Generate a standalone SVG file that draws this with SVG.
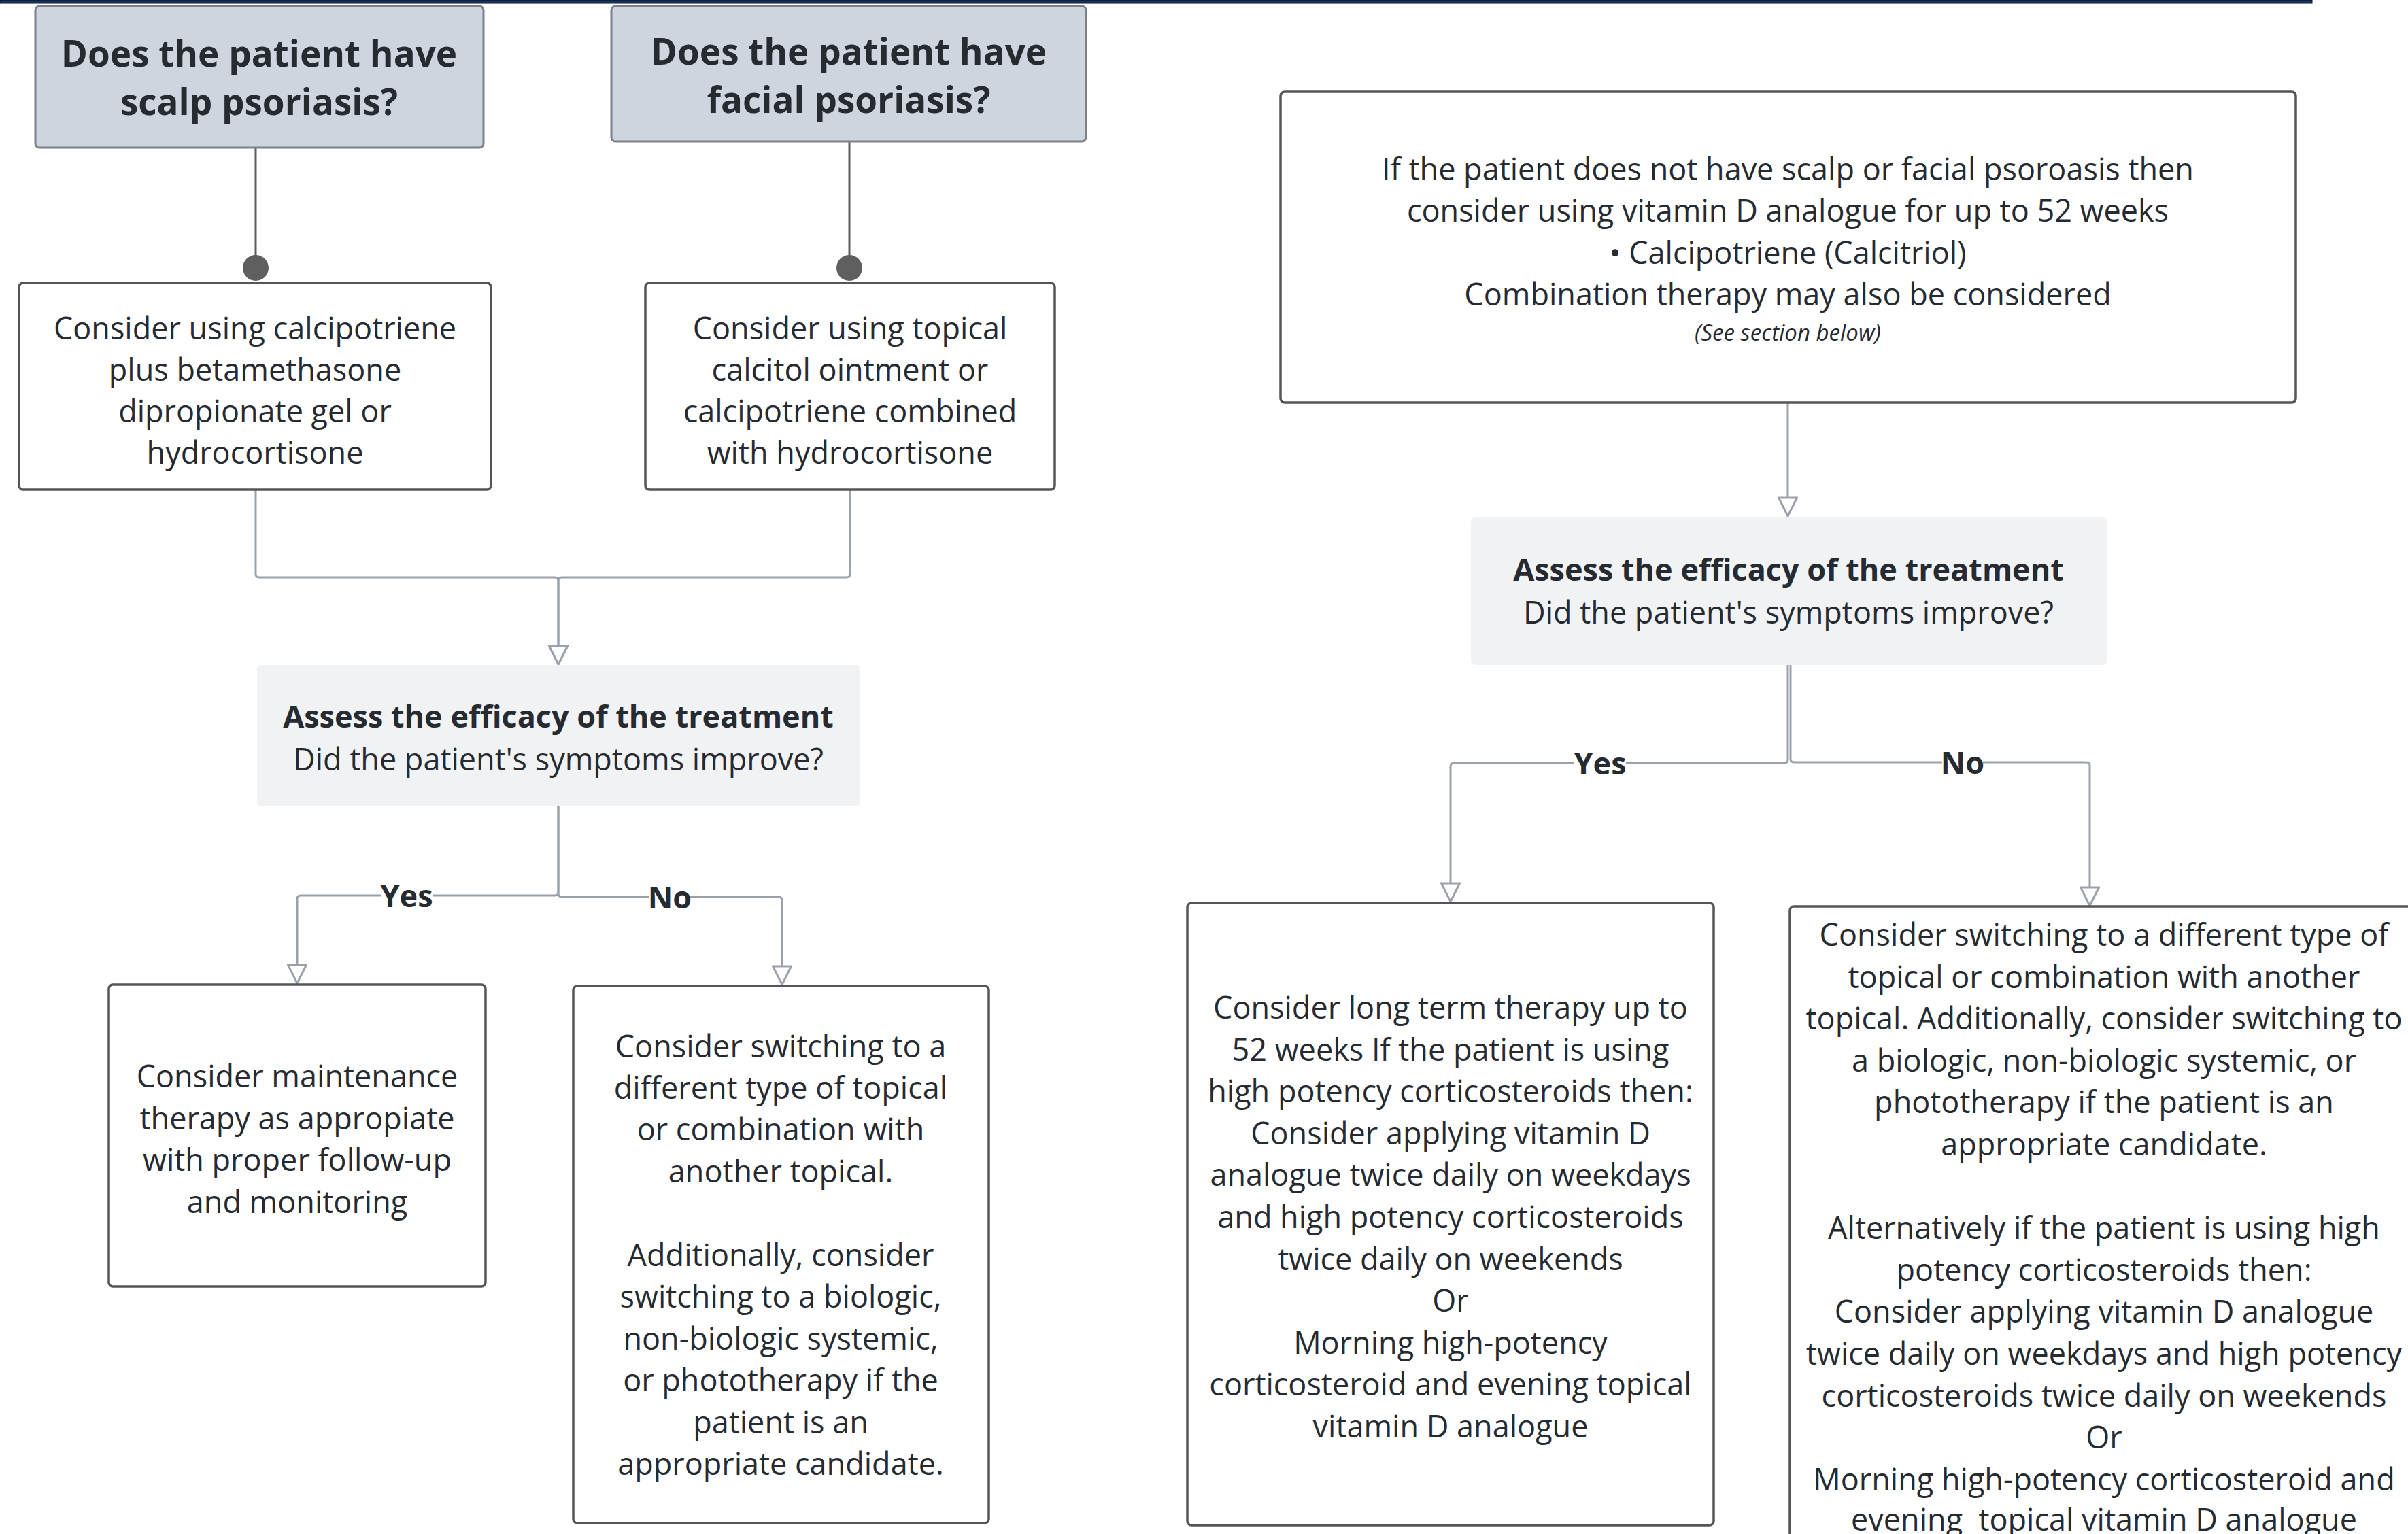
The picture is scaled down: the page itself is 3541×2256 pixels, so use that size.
<svg xmlns="http://www.w3.org/2000/svg" width="3541" height="2256" viewBox="0 0 3541 2256">
<defs>
<style>
text{font-family:"Open Sans","Noto Sans",sans-serif;fill:#262a31;text-anchor:middle;white-space:pre}
.t{font-size:45px}
.b{font-size:45px;font-weight:700}
.qt{font-size:53px;font-weight:700}
.it{font-size:33px;font-style:italic}
.q{fill:#cfd5de;stroke:#7b8089;stroke-width:3}
.box{fill:#fff;stroke:#555;stroke-width:3.5}
.assess{fill:#f1f2f4}
.conn{fill:none;stroke:#9ba1aa;stroke-width:3}
.dk{fill:none;stroke:#5c5c5c;stroke-width:3}
.lblbg{fill:#fff}
</style>
<marker id="arr" viewBox="0 0 30 30" refX="29" refY="15" markerWidth="30" markerHeight="30" markerUnits="userSpaceOnUse" orient="auto">
<path d="M2,1.5 L29,15 L2,28.5 Z" fill="#fff" stroke="#9ba1aa" stroke-width="3" stroke-linejoin="miter"/>
</marker>
<marker id="dot" viewBox="0 0 40 40" refX="20" refY="20" markerWidth="40" markerHeight="40" markerUnits="userSpaceOnUse" orient="auto">
<circle cx="20" cy="20" r="19" fill="#5f5f5f"/>
</marker>
</defs>
<rect width="3541" height="2256" fill="#fff"/>
<rect x="0" y="0" width="3400" height="5" fill="#15305a" stroke="#0a1020" stroke-width="1"/>

<g id="connectors">
<path class="dk" d="M376,218 V394" marker-end="url(#dot)"/>
<path class="dk" d="M1249,209 V394" marker-end="url(#dot)"/>
<path class="conn" d="M376,720 V844 Q376,849 381,849 H816 Q821,849 821,854 V977" marker-end="url(#arr)"/>
<path class="conn" d="M1250,720 V844 Q1250,849 1245,849 H826 Q821,849 821,854 V977" marker-end="url(#arr)"/>
<path class="conn" d="M821,1186 V1312 Q821,1317 816,1317 H442 Q437,1317 437,1322 V1446" marker-end="url(#arr)"/>
<path class="conn" d="M821,1186 V1314 Q821,1319 826,1319 H1145 Q1150,1319 1150,1324 V1448" marker-end="url(#arr)"/>
<path class="conn" d="M2629,592 V759" marker-end="url(#arr)"/>
<path class="conn" d="M2629,978 V1117 Q2629,1122 2624,1122 H2138 Q2133,1122 2133,1127 V1326" marker-end="url(#arr)"/>
<path class="conn" d="M2633,978 V1116 Q2633,1121 2638,1121 H3068 Q3073,1121 3073,1126 V1332" marker-end="url(#arr)"/>
<rect class="lblbg" x="560" y="1296" width="76" height="42"/>
<text class="b" x="598" y="1334">Yes</text>
<rect class="lblbg" x="955" y="1298" width="60" height="42"/>
<text class="b" x="985" y="1336">No</text>
<rect class="lblbg" x="2315" y="1101" width="76" height="42"/>
<text class="b" x="2353" y="1139">Yes</text>
<rect class="lblbg" x="2856" y="1100" width="60" height="42"/>
<text class="b" x="2886" y="1138">No</text>
</g>

<g id="q-scalp">
<rect class="q" x="52" y="9" width="659" height="208" rx="6"/>
<text class="qt" x="381" y="98">Does the patient have</text>
<text class="qt" x="381" y="169">scalp psoriasis?</text>
</g>

<g id="q-facial">
<rect class="q" x="899" y="9" width="698" height="199" rx="6"/>
<text class="qt" x="1248" y="95">Does the patient have</text>
<text class="qt" x="1248" y="166">facial psoriasis?</text>
</g>

<g id="scalp-treatment">
<rect class="box" x="28" y="416" width="694" height="304" rx="6"/>
<text class="t" x="375" y="499">Consider using calcipotriene</text>
<text class="t" x="375" y="560">plus betamethasone</text>
<text class="t" x="375" y="621">dipropionate gel or</text>
<text class="t" x="375" y="682">hydrocortisone</text>
</g>

<g id="facial-treatment">
<rect class="box" x="949" y="416" width="602" height="304" rx="6"/>
<text class="t" x="1250" y="499">Consider using topical</text>
<text class="t" x="1250" y="560">calcitol ointment or</text>
<text class="t" x="1250" y="621">calcipotriene combined</text>
<text class="t" x="1250" y="682">with hydrocortisone</text>
</g>

<g id="assess-left">
<rect class="assess" x="378" y="978" width="887" height="208" rx="6"/>
<text class="b" x="821" y="1070">Assess the efficacy of the treatment</text>
<text class="t" x="821" y="1133">Did the patient's symptoms improve?</text>
</g>

<g id="left-yes">
<rect class="box" x="160" y="1448" width="554" height="444" rx="6"/>
<text class="t" x="437" y="1599">Consider maintenance</text>
<text class="t" x="437" y="1661">therapy as appropiate</text>
<text class="t" x="437" y="1722">with proper follow-up</text>
<text class="t" x="437" y="1784">and monitoring</text>
</g>

<g id="left-no">
<rect class="box" x="843" y="1450" width="611" height="790" rx="6"/>
<text class="t" x="1148" y="1555">Consider switching to a</text>
<text class="t" x="1148" y="1616">different type of topical</text>
<text class="t" x="1148" y="1677">or combination with</text>
<text class="t" x="1148" y="1739">another topical.</text>
<text class="t" x="1148" y="1862">Additionally, consider</text>
<text class="t" x="1148" y="1923">switching to a biologic,</text>
<text class="t" x="1148" y="1985">non-biologic systemic,</text>
<text class="t" x="1148" y="2046">or phototherapy if the</text>
<text class="t" x="1148" y="2108">patient is an</text>
<text class="t" x="1148" y="2169">appropriate candidate.</text>
</g>

<g id="no-scalp-facial">
<rect class="box" x="1883" y="135" width="1493" height="457" rx="6"/>
<text class="t" x="2629" y="265">If the patient does not have scalp or facial psoroasis then</text>
<text class="t" x="2629" y="326">consider using vitamin D analogue for up to 52 weeks</text>
<text class="t" x="2629" y="388">• Calcipotriene (Calcitriol)</text>
<text class="t" x="2629" y="449">Combination therapy may also be considered</text>
<text class="it" x="2629" y="501">(See section below)</text>
</g>

<g id="assess-right">
<rect class="assess" x="2163" y="761" width="935" height="217" rx="6"/>
<text class="b" x="2630" y="854">Assess the efficacy of the treatment</text>
<text class="t" x="2630" y="917">Did the patient's symptoms improve?</text>
</g>

<g id="right-yes">
<rect class="box" x="1746" y="1328" width="774" height="915" rx="6"/>
<text class="t" x="2133" y="1498">Consider long term therapy up to</text>
<text class="t" x="2133" y="1560">52 weeks If the patient is using</text>
<text class="t" x="2133" y="1621">high potency corticosteroids then:</text>
<text class="t" x="2133" y="1683">Consider applying vitamin D</text>
<text class="t" x="2133" y="1744">analogue twice daily on weekdays</text>
<text class="t" x="2133" y="1806">and high potency corticosteroids</text>
<text class="t" x="2133" y="1868">twice daily on weekends</text>
<text class="t" x="2133" y="1929">Or</text>
<text class="t" x="2133" y="1991">Morning high-potency</text>
<text class="t" x="2133" y="2052">corticosteroid and evening topical</text>
<text class="t" x="2133" y="2114">vitamin D analogue</text>
</g>

<g id="right-no">
<rect class="box" x="2632" y="1333" width="924" height="960" rx="6"/>
<text class="t" x="3094" y="1391">Consider switching to a different type of</text>
<text class="t" x="3094" y="1453">topical or combination with another</text>
<text class="t" x="3094" y="1514">topical. Additionally, consider switching to</text>
<text class="t" x="3094" y="1576">a biologic, non-biologic systemic, or</text>
<text class="t" x="3094" y="1637">phototherapy if the patient is an</text>
<text class="t" x="3094" y="1699">appropriate candidate.</text>
<text class="t" x="3094" y="1822">Alternatively if the patient is using high</text>
<text class="t" x="3094" y="1884">potency corticosteroids then:</text>
<text class="t" x="3094" y="1945">Consider applying vitamin D analogue</text>
<text class="t" x="3094" y="2007">twice daily on weekdays and high potency</text>
<text class="t" x="3094" y="2069">corticosteroids twice daily on weekends</text>
<text class="t" x="3094" y="2130">Or</text>
<text class="t" x="3094" y="2192">Morning high-potency corticosteroid and</text>
<text class="t" x="3094" y="2251">evening  topical vitamin D analogue</text>
</g>
</svg>
